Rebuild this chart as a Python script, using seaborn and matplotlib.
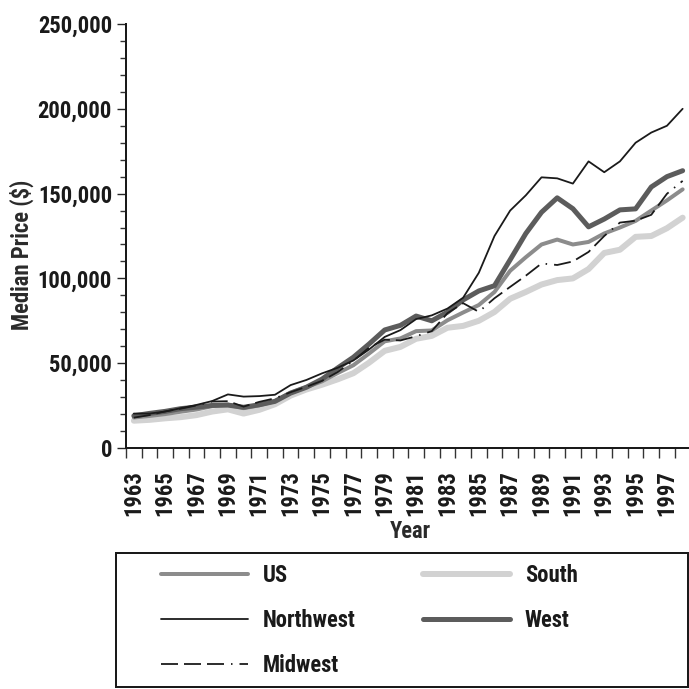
import numpy as np
import pandas as pd
import matplotlib
matplotlib.use("Agg")
import matplotlib.pyplot as plt
import seaborn as sns
from matplotlib import font_manager
from matplotlib.ticker import MultipleLocator, FuncFormatter, FixedLocator
from matplotlib.lines import Line2D
from matplotlib.patches import Rectangle

# median new home price by region, 1963-1998
years = list(range(1963, 1999))
us = [18000, 18900, 20000, 21400, 22700, 24700, 25600, 23400, 25200, 27600,
      32500, 35900, 39300, 44200, 48800, 55700, 62900, 64600, 68900, 69300,
      75300, 79900, 84300, 92000, 104500, 112500, 120000, 122900, 120000, 121500,
      126500, 130000, 133900, 140000, 146000, 152500]
northwest = [20300, 20300, 21500, 23500, 25400, 27700, 31600, 30300, 30600, 31400,
             37100, 40100, 44000, 47300, 51600, 58100, 65500, 69500, 76000, 78200,
             82200, 88600, 103300, 125000, 140000, 149000, 159600, 159000, 155900, 169000,
             162600, 169000, 180000, 186000, 190000, 200000]
midwest = [17900, 19400, 21600, 23200, 25100, 27400, 27600, 24400, 27200, 29300,
           32900, 36100, 39600, 44800, 51500, 59200, 63900, 63400, 65900, 68900,
           79500, 85400, 80300, 88300, 95000, 101600, 108800, 107900, 110000, 115600,
           125000, 132900, 134000, 137500, 149900, 157500]
south = [16100, 16600, 17500, 18200, 19400, 21500, 22800, 20300, 22500, 25800,
         30900, 34500, 37300, 40500, 44100, 50300, 57300, 59600, 64400, 66100,
         70900, 72000, 75000, 80200, 88000, 92000, 96400, 99000, 100000, 105500,
         115000, 116900, 124500, 125000, 129600, 135800]
west = [19000, 20400, 21600, 23200, 24100, 25100, 25300, 24000, 25500, 27500,
        32400, 35800, 40600, 47200, 53500, 61300, 69600, 72300, 77800, 75000,
        80100, 87300, 92600, 95700, 111000, 126500, 139000, 147500, 141100, 130400,
        135000, 140400, 141000, 153900, 160000, 163500]

df = pd.DataFrame({"Year": years, "US": us, "Northwest": northwest,
                   "Midwest": midwest, "South": south, "West": west})

sns.set_style("white")

# narrow font if there is one, else Liberation Sans sized to the widths
installed = {f.name for f in font_manager.fontManager.ttflist}
FS = 14.5
for fam, size in [("Roboto Condensed", 16.3), ("Liberation Sans Narrow", 16.5),
                  ("Liberation Sans", 14.5)]:
    if fam in installed:
        plt.rcParams["font.family"] = [fam, "DejaVu Sans"]
        FS = size
        break
plt.rcParams["font.weight"] = "bold"
plt.rcParams["lines.scale_dashes"] = False

px = 0.72  # points per pixel at 100 dpi
fpx = FS / px  # font size in pixels

fig = plt.figure(figsize=(6.89, 6.89), dpi=100)
ax = fig.add_axes([126 / 689, (689 - 448) / 689, 563 / 689, 424 / 689])

mid_dash = (0, (17 * px, 6 * px, 17 * px, 6 * px, 17 * px, 7 * px, 1.5 * px, 7 * px))
styles = {
    "South": dict(color="#d2d2d2", linewidth=6 * px, linestyle="-"),
    "US": dict(color="#8c8c8c", linewidth=4 * px, linestyle="-"),
    "West": dict(color="#5c5c5c", linewidth=5 * px, linestyle="-"),
    "Northwest": dict(color="#1a1a1a", linewidth=1.8 * px, linestyle="-"),
    "Midwest": dict(color="#1a1a1a", linewidth=1.8 * px, linestyle=mid_dash),
}
for name in ["South", "US", "West", "Northwest", "Midwest"]:
    sns.lineplot(data=df, x="Year", y=name, ax=ax, label=name, legend=False,
                 **styles[name])

ax.set_xlim(1962.5, 1962.5 + 563 / 15.68)
ax.set_ylim(0, 250000)

for s in ["top", "right"]:
    ax.spines[s].set_visible(False)
for s in ["left", "bottom"]:
    ax.spines[s].set_linewidth(2 * px)
    ax.spines[s].set_color("#1a1a1a")

ax.xaxis.set_major_locator(FixedLocator(years[::2]))
ax.xaxis.set_minor_locator(FixedLocator([y - 0.5 for y in years] + [1998.5]))
ax.tick_params(axis="x", which="major", length=0, pad=16, labelsize=FS,
               labelrotation=90, labelcolor="#1a1a1a")
ax.tick_params(axis="x", which="minor", length=7.5, width=1, direction="out",
               color="#333333", bottom=True)
for lab in ax.get_xticklabels():
    lab.set_fontweight("bold")

ax.yaxis.set_major_locator(MultipleLocator(50000))
ax.yaxis.set_minor_locator(MultipleLocator(10000))
ax.yaxis.set_major_formatter(FuncFormatter(lambda v, p: f"{v:,.0f}"))
ax.tick_params(axis="y", which="major", length=6.5, width=1, direction="out",
               pad=3.5, labelsize=FS, left=True, labelcolor="#1a1a1a")
ax.tick_params(axis="y", which="minor", length=4, width=1, direction="out",
               color="#333333", left=True)
for lab in ax.get_yticklabels():
    lab.set_fontweight("bold")

ax.set_xlabel("Year", fontsize=FS, fontweight="bold", color="#2a2a2a")
ax.set_ylabel("Median Price ($)", fontsize=FS, fontweight="bold", color="#2a2a2a")
ax.xaxis.set_label_coords(0.505, -0.198)
ax.xaxis.label.set_va("center")
ax.yaxis.set_label_coords(-0.185, 0.455)
ax.yaxis.label.set_va("center")

# legend frame drawn by hand, legend itself without frame
fig.patches.append(Rectangle((116 / 689, 2 / 689), 571.5 / 689, 134 / 689,
                             transform=fig.transFigure, fill=False,
                             edgecolor="#1a1a1a", linewidth=2 * px))
order = ["US", "Northwest", "Midwest", "South", "West"]
handles = [Line2D([], [], **styles[n]) for n in order]
fig.legend(handles, order, loc="upper left",
           bbox_to_anchor=(161 / 689, (689 - 564) / 689),
           ncol=2, frameon=False, borderpad=0, borderaxespad=0,
           handlelength=87 / fpx, handletextpad=15 / fpx,
           columnspacing=2.95, labelspacing=0.97,
           prop={"size": FS, "weight": "bold"}, labelcolor="#1a1a1a")

fig.savefig("out.png", dpi=100)
